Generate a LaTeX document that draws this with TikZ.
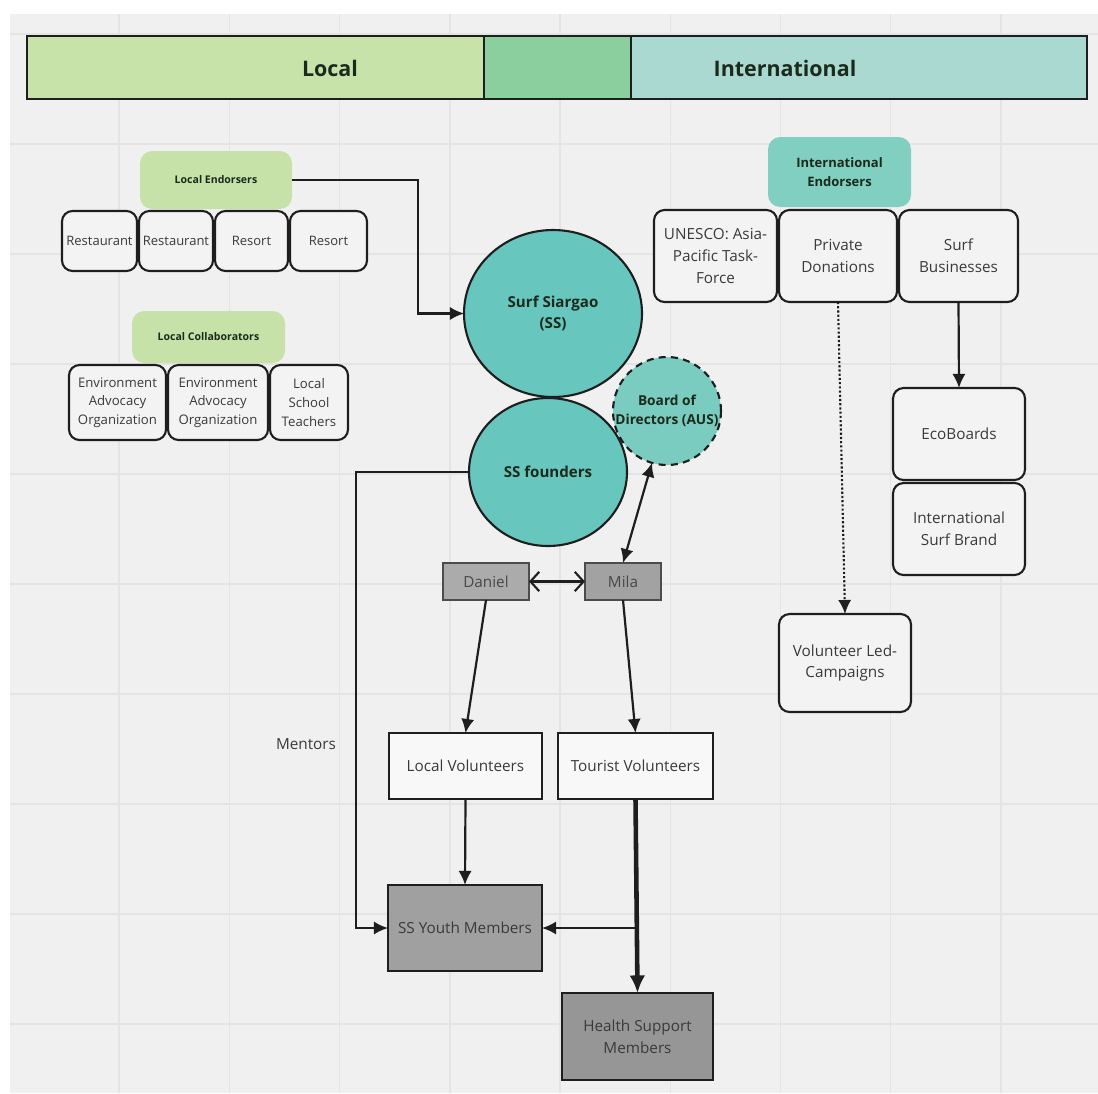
\documentclass[tikz,border=0pt]{standalone}
\usepackage{fontspec}
\setmainfont{Open Sans}
\usetikzlibrary{arrows.meta,shapes.geometric}

\definecolor{canvas}{HTML}{F0F0F0}
\definecolor{gridc}{HTML}{E4E4E4}
\definecolor{localgreen}{HTML}{C8E3AA}
\definecolor{midgreen}{HTML}{8BCF9F}
\definecolor{intteal}{HTML}{A9D9D1}
\definecolor{endgreen}{HTML}{C6E2A8}
\definecolor{endteal}{HTML}{80CFC0}
\definecolor{circteal}{HTML}{67C6BD}
\definecolor{boardteal}{HTML}{79CCBF}
\definecolor{ink}{HTML}{1E1E1E}
\definecolor{txt}{HTML}{3A3A3A}
\definecolor{darktxt}{HTML}{1C2A1C}
\definecolor{boxfill}{HTML}{F3F3F3}
\definecolor{whitefill}{HTML}{F8F8F8}
\definecolor{danielfill}{HTML}{ABABAB}
\definecolor{milafill}{HTML}{A2A2A2}
\definecolor{youthfill}{HTML}{A0A0A0}
\definecolor{healthfill}{HTML}{969696}

\newcommand{\fs}[1]{\fontsize{#1}{1.42\dimexpr#1pt\relax}\selectfont}

\begin{document}
\begin{tikzpicture}[x=0.02cm,y=-0.02cm,
  spans/.style n args={4}{at={({(#1+#3)/2},{(#2+#4)/2})},
    minimum width={(#3-#1)*0.02cm}, minimum height={(#4-#2)*0.02cm}},
  base/.style={inner sep=0pt, outer sep=0pt, align=center},
  band/.style={base, draw=ink, line width=1.2pt},
  title/.style={font=\fs{12.2}\bfseries, text=darktxt},
  tag/.style={base, rounded corners=7pt, text=darktxt},
  rbox/.style={base, draw=ink, line width=1.2pt, rounded corners=6pt,
    fill=boxfill, text=txt},
  sbox/.style={base, draw=ink, line width=1.2pt, text=txt},
  pbox/.style={base, draw=black!70, line width=0.9pt, text=black!72},
  blob/.style={base, ellipse, draw=ink, line width=1.2pt, fill=circteal,
    text=darktxt, font=\fs{8.6}\bfseries},
  arr/.style={draw=ink, line width=1.25pt, -{Latex[length=8pt,width=7.5pt]}},
  dblarr/.style={draw=ink, line width=1.25pt,
    {Latex[length=8pt,width=7.5pt]}-{Latex[length=8pt,width=7.5pt]}},
  openarr/.style={draw=ink, line width=1.2pt,
    {Straight Barb[length=5pt,width=11pt]}-{Straight Barb[length=5pt,width=11pt]}},
  gridline/.style={draw=gridc, line width=0.8pt}
]
\useasboundingbox (0,0) rectangle (1098,1093);
\fill[white] (0,0) rectangle (1098,1093);
\fill[canvas] (10,14) rectangle (1098,1093);
\foreach \k in {1,...,9}
  \draw[gridline] ({9+110.2*\k},14) -- ({9+110.2*\k},1093);
\foreach \k in {0,...,9}
  \draw[gridline] (10,{1024-110*\k}) -- (1098,{1024-110*\k});

% header band
\node[band, fill=localgreen, spans={27}{36}{484}{99}] (bandlocal) {};
\node[band, fill=intteal, spans={631}{36}{1087}{99}] (bandint) {};
\node[band, fill=midgreen, spans={484}{36}{631}{99}] (bandmid) {};
\node[title] (localtitle) at (330,68) {Local};
\node[title] (inttitle) at (785,68) {International};

% local endorsers
\node[tag, fill=endgreen, font=\fs{6}\bfseries, spans={140}{151}{292}{209}] (lend) {Local Endorsers};
\begin{scope}[every node/.style={rbox, font=\fs{7.4}}]
\node[spans={62}{211}{137}{271}] (rest1) {Restaurant};
\node[spans={139}{211}{213}{271}] (rest2) {Restaurant};
\node[spans={215}{211}{288}{271}] (res1) {Resort};
\node[spans={290}{211}{367}{271}] (res2) {Resort};
\end{scope}

% local collaborators
\node[tag, fill=endgreen, font=\fs{6}\bfseries, spans={132}{311}{285}{363}] (lcol) {Local Collaborators};
\begin{scope}[every node/.style={rbox, font=\fs{7.5}}]
\node[spans={69}{365}{166}{440}] (env1) {Environment\\Advocacy\\Organization};
\node[spans={168}{365}{268}{440}] (env2) {Environment\\Advocacy\\Organization};
\node[spans={270}{365}{348}{440}] (teach) {Local\\School\\Teachers};
\end{scope}

% international endorsers
\node[tag, fill=endteal, font=\fs{7.4}\bfseries, spans={768}{137}{911}{207}] (iend) {International\\Endorsers};
\begin{scope}[every node/.style={rbox, font=\fs{8.7}}]
\node[spans={654}{210}{777}{302}] (unesco) {UNESCO: Asia-\\Pacific Task-\\Force};
\node[spans={779}{210}{897}{302}] (priv) {Private\\Donations};
\node[spans={899}{210}{1018}{302}] (surfb) {Surf\\Businesses};
\node[spans={893}{388}{1025}{480}] (eco) {EcoBoards};
\node[spans={893}{483}{1025}{575}] (brand) {International\\Surf Brand};
\node[spans={779}{614}{911}{712}] (vlc) {Volunteer Led-\\Campaigns};
\end{scope}

% organisation
\node[blob, spans={464}{230}{642}{397}] (ss) {Surf Siargao\\(SS)};
\node[blob, spans={469}{398}{627}{546}] (founders) {SS founders};
\node[blob, circle, fill=boardteal, dashed, dash pattern=on 4pt off 3pt,
  spans={613}{357}{721}{465}] (board) {};
\node[base, text=darktxt, font=\fs{7.8}\bfseries] (boardtext) at (board.center) {Board of\\Directors (AUS)};

% people
\node[pbox, fill=danielfill, font=\fs{8.7}, spans={443}{563}{529}{600}] (daniel) {Daniel};
\node[pbox, fill=milafill, font=\fs{8.7}, spans={585}{563}{661}{600}] (mila) {Mila};
\node[sbox, fill=whitefill, font=\fs{8.7}, spans={389}{733}{542}{799}] (locvol) {Local Volunteers};
\node[sbox, fill=whitefill, font=\fs{8.7}, spans={558}{733}{713}{799}] (tourvol) {Tourist Volunteers};
\node[sbox, fill=youthfill, font=\fs{8.7}, spans={388}{885}{542}{971}] (youth) {SS Youth Members};
\node[sbox, fill=healthfill, font=\fs{8.7}, spans={562}{993}{713}{1080}] (health) {Health Support\\Members};
\node[base, text=txt, font=\fs{8.7}] (mentors) at (306,744) {Mentors};

% connectors
\draw[arr] (lend.east) -- ++(126,0) |- (ss.west);
\draw[arr] (founders.west) -- ++(-113,0) |- (youth.west);
\draw[dblarr] (board) -- (mila.north);
\draw[openarr] (daniel.east) -- (mila.west);
\draw[arr] (daniel.south) -- (locvol.north);
\draw[arr] (mila.south) -- (tourvol.north);
\draw[arr] (locvol.south) -- (youth.north);
\draw[draw=ink, line width=2.6pt, -{Latex[length=10pt,width=9pt]}] (tourvol.south) -- (health.north);
\coordinate (split) at (637,928);
\draw[arr] (split) -- (youth.east);
\draw[draw=ink, line width=1.2pt, dash pattern=on 1.2pt off 1.2pt, -{Latex[length=8pt,width=7.5pt]}] (priv.south) -- (vlc.north);
\draw[arr] (surfb.south) -- (eco.north);
\end{tikzpicture}
\end{document}
